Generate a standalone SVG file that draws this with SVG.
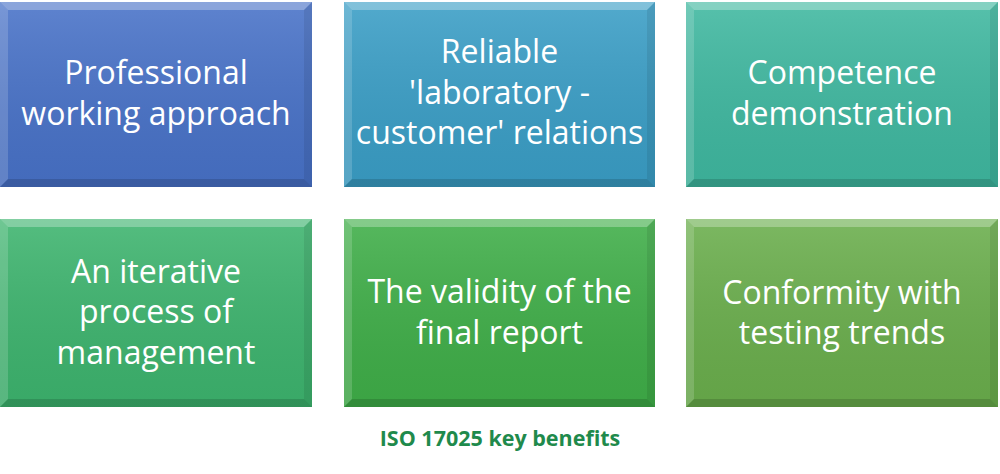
<svg xmlns="http://www.w3.org/2000/svg" width="1000" height="474" viewBox="0 0 1000 474">
<defs>
<linearGradient id="shade" x1="0" y1="0" x2="0" y2="1">
<stop offset="0" stop-color="#fff" stop-opacity="0.12"/>
<stop offset="1" stop-color="#000" stop-opacity="0.06"/>
</linearGradient>
<style>
.t{font-family:"Open Sans","Liberation Sans",sans-serif;font-size:32px;fill:#fff;text-anchor:middle}
.cap{font-family:"Open Sans","Liberation Sans",sans-serif;font-size:21.5px;font-weight:bold;fill:#1f8a4c;text-anchor:middle}
.bt{fill:#fff;fill-opacity:0.28}
.bl{fill:#fff;fill-opacity:0.16}
.bb{fill:#000;fill-opacity:0.14}
.br{fill:#000;fill-opacity:0.08}
.sh{fill:url(#shade)}
</style>
</defs>
<rect width="1000" height="474" fill="#fff"/>
<g id="box1">
<rect x="0" y="2" width="312" height="185" fill="#4872c8"/>
<rect x="0" y="2" width="312" height="185" class="sh"/>
<polygon points="0,2 312,2 304,10 8,10" class="bt"/>
<polygon points="0,2 8,10 8,179 0,187" class="bl"/>
<polygon points="0,187 8,179 304,179 312,187" class="bb"/>
<polygon points="312,2 312,187 304,179 304,10" class="br"/>
<text class="t" x="156" y="84">Professional</text>
<text class="t" x="156" y="125">working approach</text>
</g>
<g id="box2">
<rect x="344" y="2" width="311" height="185" fill="#3a9ec6"/>
<rect x="344" y="2" width="311" height="185" class="sh"/>
<polygon points="344,2 655,2 647,10 352,10" class="bt"/>
<polygon points="344,2 352,10 352,179 344,187" class="bl"/>
<polygon points="344,187 352,179 647,179 655,187" class="bb"/>
<polygon points="655,2 655,187 647,179 647,10" class="br"/>
<text class="t" x="499.5" y="63">Reliable</text>
<text class="t" x="499.5" y="104">'laboratory -</text>
<text class="t" x="499.5" y="144">customer' relations</text>
</g>
<g id="box3">
<rect x="686" y="2" width="312" height="185" fill="#3fb8a0"/>
<rect x="686" y="2" width="312" height="185" class="sh"/>
<polygon points="686,2 998,2 990,10 694,10" class="bt"/>
<polygon points="686,2 694,10 694,179 686,187" class="bl"/>
<polygon points="686,187 694,179 990,179 998,187" class="bb"/>
<polygon points="998,2 998,187 990,179 990,10" class="br"/>
<text class="t" x="842" y="84">Competence</text>
<text class="t" x="842" y="125">demonstration</text>
</g>
<g id="box4">
<rect x="0" y="219" width="312" height="188" fill="#3db46e"/>
<rect x="0" y="219" width="312" height="188" class="sh"/>
<polygon points="0,219 312,219 304,227 8,227" class="bt"/>
<polygon points="0,219 8,227 8,399 0,407" class="bl"/>
<polygon points="0,407 8,399 304,399 312,407" class="bb"/>
<polygon points="312,219 312,407 304,399 304,227" class="br"/>
<text class="t" x="156" y="283">An iterative</text>
<text class="t" x="156" y="323">process of</text>
<text class="t" x="156" y="364">management</text>
</g>
<g id="box5">
<rect x="344" y="219" width="311" height="188" fill="#3fae48"/>
<rect x="344" y="219" width="311" height="188" class="sh"/>
<polygon points="344,219 655,219 647,227 352,227" class="bt"/>
<polygon points="344,219 352,227 352,399 344,407" class="bl"/>
<polygon points="344,407 352,399 647,399 655,407" class="bb"/>
<polygon points="655,219 655,407 647,399 647,227" class="br"/>
<text class="t" x="499.5" y="303">The validity of the</text>
<text class="t" x="499.5" y="344">final report</text>
</g>
<g id="box6">
<rect x="686" y="219" width="312" height="188" fill="#6aae4c"/>
<rect x="686" y="219" width="312" height="188" class="sh"/>
<polygon points="686,219 998,219 990,227 694,227" class="bt"/>
<polygon points="686,219 694,227 694,399 686,407" class="bl"/>
<polygon points="686,407 694,399 990,399 998,407" class="bb"/>
<polygon points="998,219 998,407 990,399 990,227" class="br"/>
<text class="t" x="842" y="304">Conformity with</text>
<text class="t" x="842" y="344">testing trends</text>
</g>
<g id="connectors"/>
<text class="cap" x="500" y="446">ISO 17025 key benefits</text>
</svg>
